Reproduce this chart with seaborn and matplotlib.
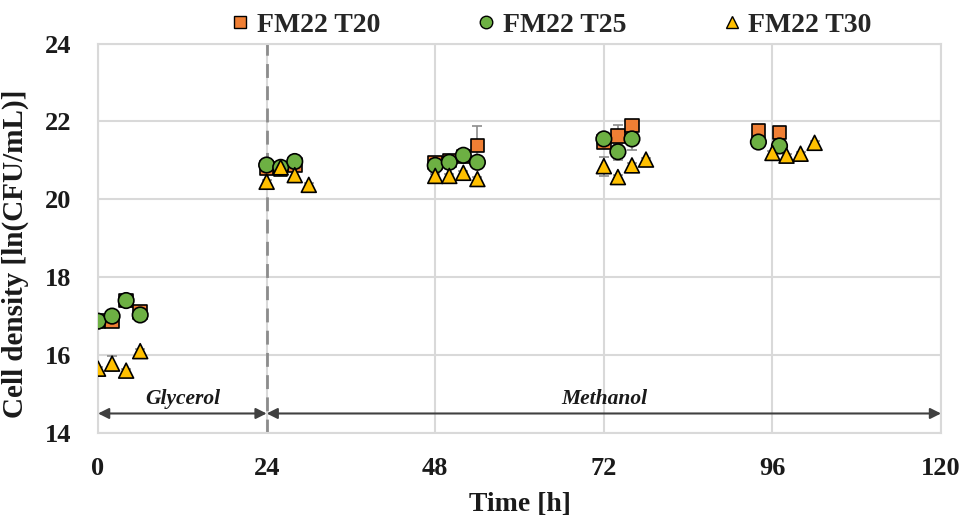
import matplotlib
matplotlib.use("Agg")
import matplotlib.pyplot as plt
import seaborn as sns
import pandas as pd
import numpy as np
from matplotlib.lines import Line2D

# ---- data ----
t20_time = [0, 2, 4, 6, 24, 26, 28, 48, 50, 52, 54, 72, 74, 76, 94, 97]
t20_val = [16.88, 16.87, 17.40, 17.10, 20.80, 20.78, 20.88, 20.95, 21.00, 21.10, 21.38,
           21.47, 21.62, 21.90, 21.75, 21.71]
t20_err = [0.05, 0.05, 0.05, 0.05, 0.05, 0.05, 0.05, 0.05, 0.05, 0.05, 0.50,
           0.05, 0.28, 0.05, 0.05, 0.05]

t25_time = [0, 2, 4, 6, 24, 26, 28, 48, 50, 52, 54, 72, 74, 76, 94, 97]
t25_val = [16.87, 17.00, 17.40, 17.03, 20.88, 20.82, 20.97, 20.87, 20.95, 21.13, 20.95,
           21.55, 21.22, 21.55, 21.47, 21.37]
t25_err = [0.05, 0.05, 0.05, 0.05, 0.05, 0.05, 0.05, 0.05, 0.05, 0.05, 0.08,
           0.05, 0.20, 0.28, 0.05, 0.05]

t30_time = [0, 2, 4, 6, 24, 26, 28, 30, 48, 50, 52, 54, 72, 74, 76, 78, 96, 98, 100, 102]
t30_val = [15.65, 15.78, 15.60, 16.10, 20.45, 20.82, 20.62, 20.37, 20.60, 20.60, 20.68,
           20.52, 20.85, 20.57, 20.87, 21.02, 21.19, 21.12, 21.17, 21.45]
t30_err = [0.05, 0.20, 0.05, 0.05, 0.05, 0.05, 0.10, 0.05, 0.05, 0.05, 0.05,
           0.05, 0.24, 0.05, 0.05, 0.05, 0.05, 0.05, 0.05, 0.05]

series_names = ["FM22 T20", "FM22 T25", "FM22 T30"]
x_ticks = [0, 24, 48, 72, 96, 120]
y_ticks = [14, 16, 18, 20, 22, 24]
phase_labels = ["Glycerol", "Methanol"]
phase_bounds = [(0, 24), (24, 120)]

colors = {"FM22 T20": "#F07F34", "FM22 T25": "#6DB043", "FM22 T30": "#FFC000"}
markers = {"FM22 T20": "s", "FM22 T25": "o", "FM22 T30": "^"}
msizes = {"FM22 T20": 95, "FM22 T25": 125, "FM22 T30": 115}

df = pd.concat([
    pd.DataFrame({"time": t20_time, "val": t20_val, "err": t20_err, "series": series_names[0]}),
    pd.DataFrame({"time": t25_time, "val": t25_val, "err": t25_err, "series": series_names[1]}),
    pd.DataFrame({"time": t30_time, "val": t30_val, "err": t30_err, "series": series_names[2]}),
], ignore_index=True)

sns.set_theme(style="white")
plt.rcParams["font.family"] = ["Liberation Serif", "DejaVu Serif"]
plt.rcParams["font.weight"] = "bold"

fig = plt.figure(figsize=(9.64, 5.21), dpi=100)
ax = fig.add_axes([0.1017, 0.169, 0.8745, 0.7475])

grid_c = "#D9D9D9"
ax.set_xlim(0, 120)
ax.set_ylim(14, 24)
ax.set_xticks(x_ticks)
ax.set_yticks(y_ticks)
ax.grid(True, color=grid_c, linewidth=1.5, zorder=0)
ax.set_axisbelow(True)
for sp in ax.spines.values():
    sp.set_color(grid_c)
    sp.set_linewidth(1.5)

# error bars
for name in series_names:
    d = df[df.series == name]
    ax.errorbar(d.time, d.val, yerr=d.err, fmt="none", ecolor="#8C8C8C",
                elinewidth=1.2, capsize=3.5, capthick=1.2, zorder=2)

sns.scatterplot(data=df, x="time", y="val", hue="series", style="series",
                size="series", sizes=msizes,
                palette=colors, markers=markers, edgecolor="black",
                linewidth=1.2, ax=ax, legend=False, zorder=3)

# phase separator
ax.axvline(24, color="#8C8C8C", linestyle=(0, (5, 3)), linewidth=2, zorder=2)

# phase arrows
for (x0, x1), lab in zip(phase_bounds, phase_labels):
    ax.annotate("", xy=(x0, 14.5), xytext=(x1, 14.5),
                arrowprops=dict(arrowstyle="<|-|>", color="#404040", lw=1.5,
                                mutation_scale=16, shrinkA=0, shrinkB=0,
                                facecolor="black"), zorder=4)
    ax.text((x0 + x1) / 2, 14.87, lab, ha="center", va="center",
            fontsize=15.5, fontstyle="italic", fontweight="bold", color="#1a1a1a")

ax.tick_params(axis="both", length=0, labelsize=19, colors="#1a1a1a")
ax.tick_params(axis="x", pad=17)
ax.tick_params(axis="y", pad=19)
for lbl in ax.get_xticklabels() + ax.get_yticklabels():
    lbl.set_fontweight("bold")

ax.set_xlabel("Time [h]", fontsize=20, fontweight="bold", color="#1a1a1a", labelpad=9)
ax.set_ylabel("Cell density [ln(CFU/mL)]", fontsize=21, fontweight="bold",
              color="#1a1a1a", labelpad=8)
ax.yaxis.set_label_coords(-0.082, 0.46)

handles = [Line2D([0], [0], marker=markers[n], color="none", markerfacecolor=colors[n],
                  markeredgecolor="black", markeredgewidth=1.0, markersize=9, label=n)
           for n in series_names]
fig.legend(handles=handles, loc="center", bbox_to_anchor=(0.571, 0.952), ncol=3,
           frameon=False, handletextpad=0.2, columnspacing=3.4,
           handlelength=0.8, prop={"weight": "bold", "size": 20})

fig.savefig("out.png", dpi=100)
